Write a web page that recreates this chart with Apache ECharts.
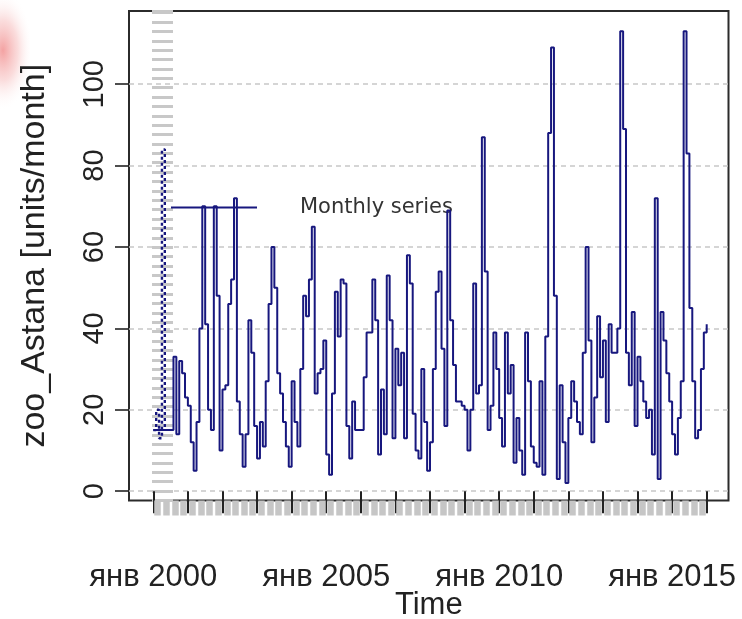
<!DOCTYPE html>
<html>
<head>
<meta charset="utf-8">
<title>zoo_Astana</title>
<script src="https://cdn.jsdelivr.net/npm/echarts@6/dist/echarts.min.js"></script>
<style>
  html, body { margin: 0; padding: 0; background: #ffffff; }
  #chart { width: 742px; height: 619px; }
</style>
</head>
<body>
<div id="chart"></div>
<script>
// Monthly values, January 2000 onwards (one entry per month)
const startYear = 2000;
const monthly = [
  // 2000
  15, 15, 15, 15, 15, 15, 15, 33, 14, 32, 29, 23,
  // 2001
  21, 12, 5, 17, 40, 70, 41, 20, 15, 70, 48, 10,
  // 2002
  25, 26, 46, 52, 72, 22, 14, 6, 14, 42, 34, 16,
  // 2003
  8, 17, 11, 27, 46, 60, 50, 29, 24, 17, 11, 6,
  // 2004
  27, 17, 11, 30, 48, 43, 52, 65, 24, 29, 30, 37,
  // 2005
  9, 4, 24, 49, 38, 52, 51, 16, 8, 22, 15, 15,
  // 2006
  15, 28, 39, 39, 52, 42, 9, 25, 14, 53, 42, 13,
  // 2007
  35, 26, 34, 13, 58, 51, 19, 10, 8, 30, 17, 5,
  // 2008
  12, 30, 49, 54, 35, 16, 69, 42, 31, 22, 22, 21,
  // 2009
  20, 10, 20, 51, 24, 26, 87, 54, 15, 21, 39, 30,
  // 2010
  18, 11, 39, 24, 31, 7, 18, 10, 4, 39, 27, 11,
  // 2011
  7, 6, 27, 4, 38, 88, 109, 48, 3, 26, 12, 2,
  // 2012
  18, 27, 22, 17, 14, 34, 60, 37, 12, 23, 43, 28,
  // 2013
  37, 17, 41, 34, 34, 40, 113, 89, 34, 26, 44, 16,
  // 2014
  33, 27, 22, 18, 20, 9, 72, 3, 44, 37, 29, 22,
  // 2015
  14, 9, 18, 27, 113, 83, 45, 27, 13, 15, 30, 39,
  // 2016
  41
];
// Dotted trace over the first months of 2000
const dottedStart = [15, 20, 13, 84, 15];

const seriesName = 'Monthly series';
const yTicks = [0, 20, 40, 60, 80, 100];
const labelYears = [2000, 2005, 2010, 2015];
const monthPrefix = 'янв';
const xTitle = 'Time';
const yTitle = 'zoo_Astana [units/month]';

const yMin = -2.3, yMax = 118;
const ink = '#222222';
const lineColor = '#17177e';
const sansFont = 'Liberation Sans, Arial, sans-serif';

const toPairs = arr => arr.map((v, i) => [startYear + i / 12, v]);

const chart = echarts.init(document.getElementById('chart'), null, { renderer: 'canvas' });

// every grid keeps its exact box; labels may sit outside it
const box = extra => Object.assign({ top: 11, bottom: 118.5, outerBoundsMode: 'none', containLabel: false }, extra);

chart.setOption({
  animation: false,
  backgroundColor: '#ffffff',
  graphic: [{
    // soft pink tint in the upper-left corner (round glow stretched vertically)
    type: 'rect',
    shape: { x: -30, y: 0, width: 60, height: 60 },
    scaleY: 2,
    silent: true,
    z: -10,
    style: {
      fill: {
        type: 'radial', x: 0.55, y: 0.42, r: 0.5,
        colorStops: [
          { offset: 0, color: 'rgba(236,100,100,0.6)' },
          { offset: 0.5, color: 'rgba(240,140,140,0.3)' },
          { offset: 1, color: 'rgba(255,255,255,0)' }
        ]
      }
    }
  }],
  legend: {
    data: [{ name: seriesName, icon: 'path://M0,0H86V2H0Z' }],
    left: 171,
    top: 197,
    padding: 0,
    itemWidth: 86,
    itemHeight: 2.4,
    textStyle: {
      fontFamily: 'DejaVu Sans',
      fontSize: 21,
      color: '#333333',
      padding: [0, 0, 0, 38]
    }
  },
  grid: [
    // plot frame
    box({ left: 129, right: 13.5, show: true,
      borderColor: '#2b2b2b', borderWidth: 2, backgroundColor: 'transparent' }),
    // data area, spanning Jan 2000 .. Jan 2016
    box({ left: 153.3, right: 35.3 }),
    // quarterly grey rug under the frame
    box({ left: 157.6, right: 39.6 }),
    // grey rug along the left
    box({ left: 152, right: 567 })
  ],
  xAxis: [
    {
      gridIndex: 0, type: 'value', min: 0, max: 1,
      axisLine: { show: false }, axisTick: { show: false },
      axisLabel: { show: false }, splitLine: { show: false },
      name: xTitle, nameLocation: 'middle', nameGap: 89,
      nameTextStyle: { fontFamily: sansFont, fontSize: 31, color: ink }
    },
    {
      gridIndex: 1, type: 'value', min: 2000, max: 2016, interval: 1,
      axisLine: { show: false },
      axisTick: { show: true, length: 22, lineStyle: { color: ink, width: 2 } },
      axisLabel: {
        margin: 61, fontFamily: sansFont, fontSize: 31, color: ink,
        formatter: v => labelYears.includes(Math.round(v)) ? monthPrefix + ' ' + Math.round(v) : ''
      },
      splitLine: { show: false }
    },
    {
      gridIndex: 2, type: 'value', min: 2000, max: 2015.75, interval: 0.25,
      axisLine: { show: false },
      axisTick: { show: true, length: 15, lineStyle: { color: '#c6c6c6', width: 6.5 } },
      axisLabel: { show: false }, splitLine: { show: false }
    },
    { gridIndex: 3, type: 'value', min: 0, max: 1, show: false }
  ],
  yAxis: [
    {
      gridIndex: 0, type: 'value', min: yMin, max: yMax,
      axisLine: { show: false },
      axisTick: { show: true, customValues: yTicks, length: 14, lineStyle: { color: ink, width: 1.6 } },
      axisLabel: {
        customValues: yTicks, rotate: 90, margin: 20,
        fontFamily: sansFont, fontSize: 29, color: ink
      },
      splitLine: { show: true, lineStyle: { color: '#c8c8c8', width: 1.5, type: [5, 4] } },
      name: yTitle, nameLocation: 'middle', nameGap: 77,
      nameTextStyle: { fontFamily: sansFont, fontSize: 34, color: ink }
    },
    { gridIndex: 1, type: 'value', min: yMin, max: yMax, show: false },
    { gridIndex: 2, type: 'value', min: 0, max: 1, show: false },
    {
      gridIndex: 3, type: 'value', min: 0, max: 120, interval: 2.3,
      axisLine: { show: false },
      axisTick: { show: true, inside: true, length: 21, lineStyle: { color: '#c8c8c8', width: 3 } },
      axisLabel: { show: false }, splitLine: { show: false }
    }
  ],
  series: [
    {
      name: seriesName, type: 'line', step: 'end',
      xAxisIndex: 1, yAxisIndex: 1,
      data: toPairs(monthly),
      showSymbol: false, symbol: 'none',
      color: lineColor,
      lineStyle: { color: lineColor, width: 2 },
      z: 5
    },
    {
      name: 'dotted', type: 'line', step: 'end',
      xAxisIndex: 1, yAxisIndex: 1,
      data: toPairs(dottedStart),
      showSymbol: false, symbol: 'none',
      lineStyle: { color: lineColor, width: 2.4, type: [3, 3] },
      z: 6
    }
  ]
});
</script>
</body>
</html>
